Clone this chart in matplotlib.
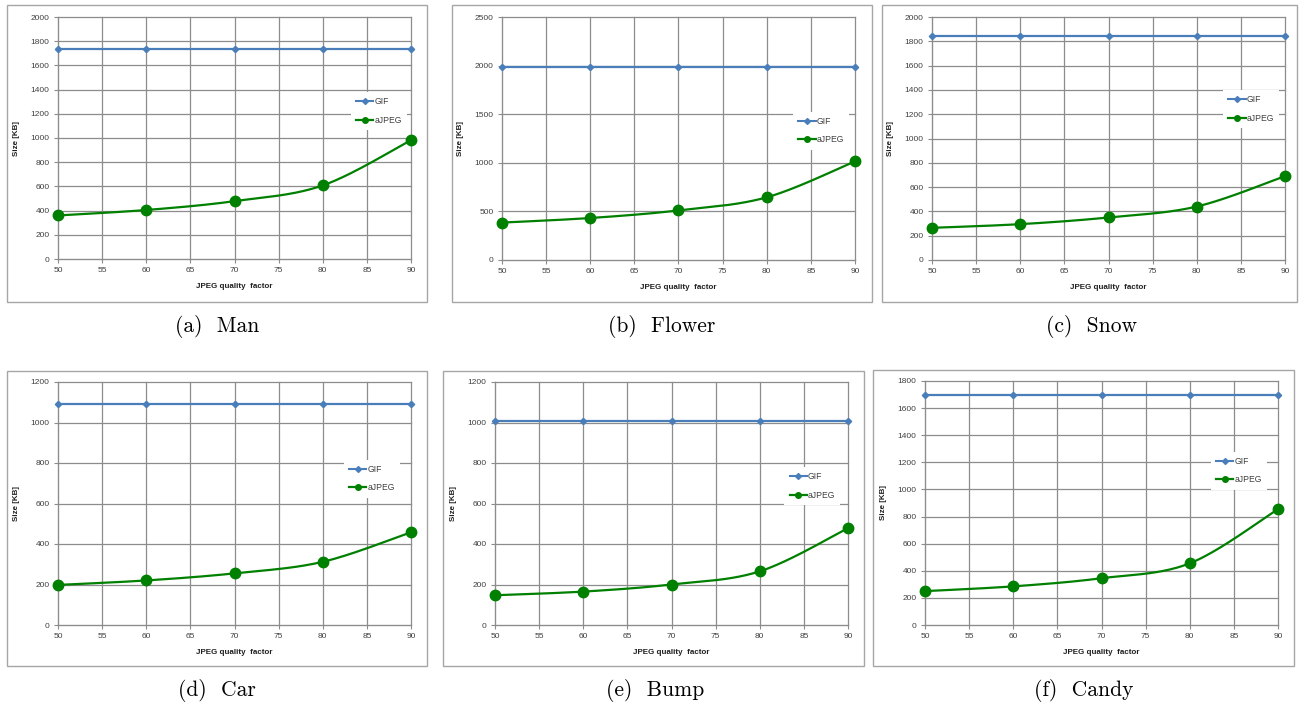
import numpy as np
import matplotlib.pyplot as plt
from matplotlib.patches import Rectangle
from matplotlib.lines import Line2D

W, H = 1299, 709

# ---------- data: file size vs. JPEG quality ----------
quality = [50, 60, 70, 80, 90]

gif_man = [1735, 1735, 1735, 1735, 1735]
ajpeg_man = [360, 405, 478, 608, 982]

gif_flower = [1985, 1985, 1985, 1985, 1985]
ajpeg_flower = [385, 432, 510, 645, 1015]

gif_snow = [1840, 1840, 1840, 1840, 1840]
ajpeg_snow = [265, 295, 350, 440, 690]

gif_car = [1090, 1090, 1090, 1090, 1090]
ajpeg_car = [198, 220, 255, 312, 458]

gif_bump = [1005, 1005, 1005, 1005, 1005]
ajpeg_bump = [147, 165, 200, 265, 478]

gif_candy = [1700, 1700, 1700, 1700, 1700]
ajpeg_candy = [250, 285, 345, 455, 855]

captions = ["(a)  Man", "(b)  Flower", "(c)  Snow", "(d)  Car", "(e)  Bump", "(f)  Candy"]
gif_sets = [gif_man, gif_flower, gif_snow, gif_car, gif_bump, gif_candy]
ajpeg_sets = [ajpeg_man, ajpeg_flower, ajpeg_snow, ajpeg_car, ajpeg_bump, ajpeg_candy]
y_max = [2000, 2500, 2000, 1200, 1200, 1800]
y_step = [200, 500, 200, 200, 200, 200]

# ---------- layout (pixels: left, top, right, bottom) ----------
boxes = [(7, 5, 427, 302), (452, 5, 872, 302), (882, 5, 1297, 302),
         (7, 371, 427, 666), (443, 371, 864, 666), (873, 370, 1294, 666)]
plots = [(58, 17, 411, 259), (502, 17, 855, 260), (932, 17, 1285, 260),
         (58, 382, 411, 625), (495, 382, 848, 625), (925, 381, 1278, 625)]
cap_pos = [(217, 327), (662, 327), (1091, 327), (217, 690), (655, 690), (1084, 690)]
leg_anchor = [(0.83, 0.69), (0.825, 0.61), (0.825, 0.70),
              (0.81, 0.68), (0.82, 0.65), (0.81, 0.71)]

BLUE = "#4A7EBB"
GREEN = "#008000"
GRID = "#8C8C8C"
TXT = "#404040"


def fx(px):
    return px / W


def fy(py):
    return 1 - py / H


def smooth(x, y, n=40):
    """Excel-style smoothed line: cubic Bezier through every point."""
    pts = np.column_stack([np.asarray(x, float), np.asarray(y, float)])
    out = []
    t = np.linspace(0, 1, n)[:, None]
    for i in range(len(pts) - 1):
        p0 = pts[max(i - 1, 0)]
        p1, p2 = pts[i], pts[i + 1]
        p3 = pts[min(i + 2, len(pts) - 1)]
        c1 = p1 + (p2 - p0) / 6
        c2 = p2 - (p3 - p1) / 6
        seg = ((1 - t) ** 3 * p1 + 3 * (1 - t) ** 2 * t * c1
               + 3 * (1 - t) * t ** 2 * c2 + t ** 3 * p2)
        out.append(seg if i == 0 else seg[1:])
    return np.vstack(out)


fig = plt.figure(figsize=(W / 100, H / 100), dpi=100)
fig.patch.set_facecolor("white")

for k in range(6):
    bl, bt, br, bb = boxes[k]
    fig.add_artist(Rectangle((fx(bl), fy(bb)), fx(br - bl), (bb - bt) / H,
                             transform=fig.transFigure, fill=False,
                             edgecolor="#A6A6A6", lw=1.0))

    pl, pt, pr, pb = plots[k]
    ax = fig.add_axes([fx(pl), fy(pb), fx(pr - pl), (pb - pt) / H])
    ax.set_xlim(50, 90)
    ax.set_ylim(0, y_max[k])
    ax.set_xticks(np.arange(50, 91, 5))
    ax.set_yticks(np.arange(0, y_max[k] + 1, y_step[k]))
    ax.grid(True, color=GRID, lw=0.9)
    for gl in ax.get_xgridlines() + ax.get_ygridlines():
        gl.set_clip_on(False)
    ax.set_axisbelow(True)
    for s in ax.spines.values():
        s.set_visible(False)
    ax.spines["left"].set_visible(True)
    ax.spines["bottom"].set_visible(True)
    ax.spines["left"].set_color(GRID)
    ax.spines["bottom"].set_color(GRID)
    ax.tick_params(labelsize=6, colors=GRID, labelcolor=TXT,
                   length=3, width=0.8, pad=3)
    for lab in ax.get_xticklabels() + ax.get_yticklabels():
        lab.set_family("Liberation Sans")

    ax.plot(quality, gif_sets[k], color=BLUE, lw=1.6, marker="D",
            markersize=3.2, clip_on=False, zorder=3)
    curve = smooth(quality, ajpeg_sets[k])
    ax.plot(curve[:, 0], curve[:, 1], color=GREEN, lw=1.6, clip_on=False, zorder=3)
    ax.plot(quality, ajpeg_sets[k], ls="none", marker="o", markersize=7.5,
            color=GREEN, clip_on=False, zorder=4)

    ax.set_xlabel("JPEG quality  factor", fontsize=5.8, fontweight="bold",
                  family="Liberation Sans", color="#202020", labelpad=6)
    ax.set_ylabel("Size [KB]", fontsize=5.8, fontweight="bold",
                  family="Liberation Sans", color="#202020", labelpad=8)

    handles = [Line2D([], [], color=BLUE, lw=1.5, marker="D", markersize=3),
               Line2D([], [], color=GREEN, lw=1.6, marker="o", markersize=4)]
    leg = ax.legend(handles, ["GIF", "aJPEG"], loc="upper left",
                    bbox_to_anchor=leg_anchor[k], borderaxespad=0,
                    prop={"family": "Liberation Sans", "size": 6.2},
                    frameon=True, fancybox=False, framealpha=1,
                    edgecolor="none", facecolor="white",
                    handlelength=2.0, handletextpad=0.1,
                    labelspacing=1.1, borderpad=0.6)
    leg.set_zorder(5)
    for t in leg.get_texts():
        t.set_color(TXT)

    cx, cy = cap_pos[k]
    fig.text(fx(cx), fy(cy), captions[k], ha="center", va="center",
             family="cmr10", fontsize=15.5, color="black")

fig.savefig("out.png", dpi=100)
